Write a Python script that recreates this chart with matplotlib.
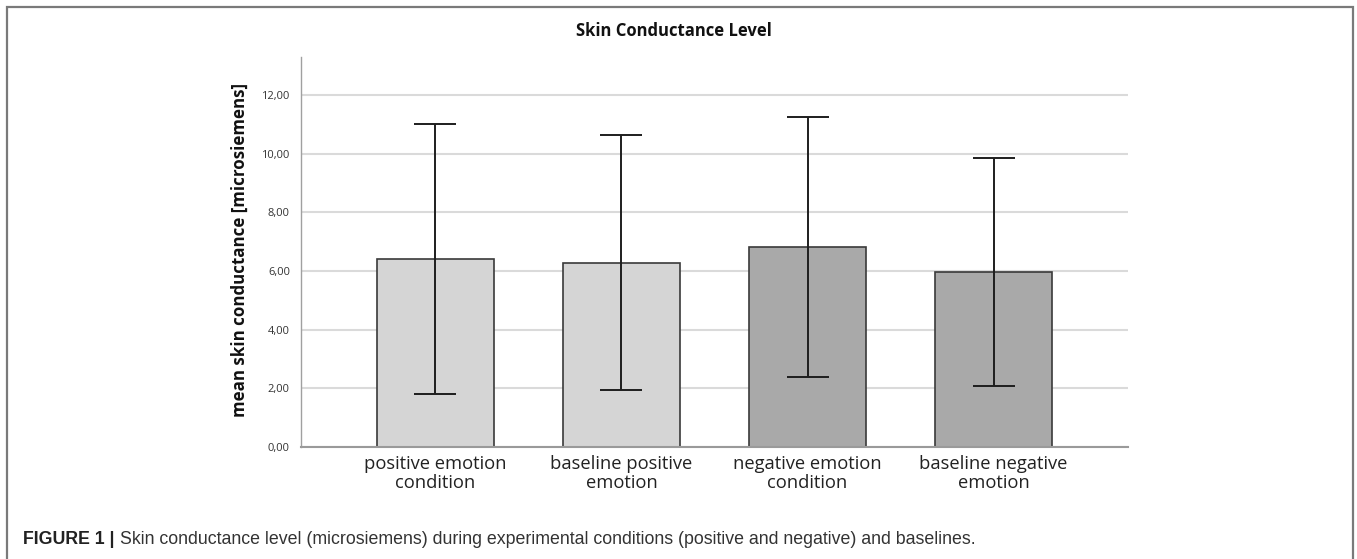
import matplotlib
matplotlib.use("Agg")
import matplotlib.pyplot as plt
from matplotlib.patches import Rectangle
from matplotlib.ticker import FixedLocator, FuncFormatter

categories = ["positive emotion\ncondition", "baseline positive\nemotion",
              "negative emotion\ncondition", "baseline negative\nemotion"]
means = [6.40, 6.26, 6.81, 5.96]
ci_low = [1.82, 1.93, 2.38, 2.08]
ci_high = [11.00, 10.63, 11.24, 9.85]
bar_colors = ["#d5d5d5", "#d5d5d5", "#a9a9a9", "#a9a9a9"]
yticks = [0, 2, 4, 6, 8, 10, 12]

W, H = 1357, 559
fig = plt.figure(figsize=(W / 100, H / 100), dpi=100)
fig.patch.set_facecolor("white")

# outer frame
fig.patches.append(Rectangle((7 / W, -0.05), (1353 - 7) / W, (H - 7) / H + 0.05,
                             transform=fig.transFigure, fill=False,
                             edgecolor="#7a7a7a", linewidth=1.6, clip_on=False))

ax = fig.add_axes([301 / W, 1 - 447 / H, (1128 - 301) / W, (447 - 57) / H])
x = list(range(len(categories)))
err_lo = [m - l for m, l in zip(means, ci_low)]
err_hi = [h - m for m, h in zip(means, ci_high)]
ax.bar(x, means, width=0.63, color=bar_colors, edgecolor="#3a3a3a",
       linewidth=1.2, zorder=2)
ax.errorbar(x, means, yerr=[err_lo, err_hi], fmt="none", ecolor="#1e1e1e",
            elinewidth=1.4, capsize=14.8, capthick=1.4, zorder=3)

ax.set_xlim(-0.723, 3.723)
ax.set_ylim(0, 13.3)
ax.yaxis.set_major_locator(FixedLocator(yticks))
ax.yaxis.set_major_formatter(FuncFormatter(lambda v, p: f"{v:.2f}".replace(".", ",")))
ax.set_xticks(x)
ax.set_xticklabels(categories, fontsize=13.2, family="Open Sans",
                   color="#222222", linespacing=1.05)
for lbl in ax.get_yticklabels():
    lbl.set_fontsize(8)
    lbl.set_family("Open Sans")
    lbl.set_color("#333333")
ax.tick_params(axis="both", length=0)
ax.tick_params(axis="y", pad=8)
ax.tick_params(axis="x", pad=6)

ax.grid(axis="y", color="#dadada", linewidth=1.5, zorder=0)
ax.set_axisbelow(True)
for s in ["top", "right"]:
    ax.spines[s].set_visible(False)
ax.spines["left"].set_color("#a0a0a0")
ax.spines["left"].set_linewidth(1.0)
ax.spines["bottom"].set_color("#9a9a9a")
ax.spines["bottom"].set_linewidth(1.5)

fig.text(240 / W, 1 - 250 / H, "mean skin conductance [microsiemens]",
         rotation=90, ha="center", va="center", fontsize=12.2,
         fontweight="bold", family="Open Sans", color="#111111")
fig.text(674 / W, 1 - 31 / H, "Skin Conductance Level", ha="center",
         va="center", fontsize=12, fontweight="bold", family="Open Sans",
         color="#111111")

t1 = fig.text(23 / W, 1 - 540 / H, "FIGURE 1 |", ha="left", va="center",
              fontsize=12.8, fontweight="bold", family="Liberation Sans",
              color="#222222")
fig.canvas.draw()
bb = t1.get_window_extent()
fig.text((bb.x1 + 5) / W, 1 - 540 / H,
         "Skin conductance level (microsiemens) during experimental conditions "
         "(positive and negative) and baselines.",
         ha="left", va="center", fontsize=12.8, family="Liberation Sans",
         color="#333333")

fig.savefig("out.png", dpi=100, facecolor="white")
